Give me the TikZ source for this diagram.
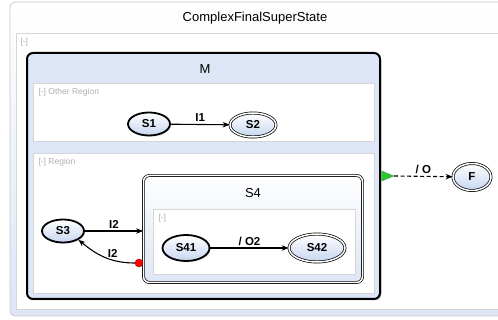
\documentclass[tikz,border=0pt]{standalone}
\usepackage{fontspec}
\setmainfont{Liberation Sans}
\usetikzlibrary{shapes.geometric,arrows.meta,shadows}

\definecolor{stateblue}{HTML}{C6D6F0}
\definecolor{panelblue}{HTML}{DCE6F6}
\definecolor{frameline}{HTML}{C8C8C8}
\definecolor{regionline}{HTML}{D6D6D6}
\definecolor{tagtext}{HTML}{B0B0B0}
\definecolor{entrygreen}{HTML}{2EC82E}

\tikzset{
  state/.style={ellipse, draw, line width=1.8pt, top color=white, bottom color=stateblue,
    inner sep=0pt, minimum width=42pt, minimum height=23pt,
    font=\fontsize{11.5}{13}\selectfont\bfseries,
    drop shadow={opacity=0.25, shadow xshift=1.2pt, shadow yshift=-1.2pt}},
  final/.style={state, line width=0.7pt, double=white, double distance=1.5pt},
  region/.style={draw=regionline, fill=white, line width=0.6pt},
  tag/.style={anchor=west, text=tagtext, font=\fontsize{8.5}{10}\selectfont},
  heading/.style={font=\fontsize{13}{15}\selectfont},
  trans/.style={line width=1.1pt, -{Stealth[length=7pt, width=5.5pt]}},
  guard/.style={above, inner sep=2pt, font=\fontsize{11.5}{13}\selectfont\bfseries}
}

\begin{document}
\begin{tikzpicture}[x=1pt, y=-1pt]
  \useasboundingbox (0,0) rectangle (498,320);
  \clip (0,0) rectangle (498,320);

  % outer super state
  \draw[frameline, rounded corners=5pt, top color=white, bottom color=panelblue, line width=0.7pt]
    (10,2) rectangle (530,316);
  \draw[region] (16,33) rectangle (530,309);
  \node[heading] (title) at (255,18) {ComplexFinalSuperState};
  \node[tag] (topTag) at (17,42) {[-]};

  % composite state M
  \node[draw, line width=2pt, rounded corners=6pt, fill=panelblue, minimum width=353pt,
    minimum height=246pt, drop shadow={opacity=0.3, shadow xshift=1.5pt, shadow yshift=-1.5pt}]
    (M) at (203.5,176) {};
  \node[heading] (Mname) at (205,69) {M};

  \draw[region] (33,83) rectangle (374,141);
  \node[tag] (otherTag) at (35,92) {[-] Other Region};
  \draw[region] (33,153) rectangle (374,293);
  \node[tag] (regionTag) at (35,162) {[-] Region};

  % composite state S4
  \node[draw, line width=0.7pt, double=white, double distance=1.5pt, rounded corners=6pt,
    top color=white, bottom color=panelblue, minimum width=219pt, minimum height=107pt]
    (S4) at (253,229) {};
  \node[heading] (S4name) at (253,193) {S4};
  \draw[region] (153,209) rectangle (355,274);
  \node[tag] (innerTag) at (155,218) {[-]};

  % states
  \node[state] (S1) at (149,124) {S1};
  \node[final, minimum width=46pt, minimum height=24pt] (S2) at (253,125) {S2};
  \node[state] (S3) at (63,231) {S3};
  \node[state, minimum width=47pt, minimum height=26pt] (S41) at (186,248) {S41};
  \node[final, minimum width=56pt, minimum height=28pt] (S42) at (317,248) {S42};
  \node[final, minimum width=38pt, minimum height=27pt] (F) at (472,177) {F};

  % pseudo states
  \node[circle, fill=red, draw=red!60!black, line width=0.4pt, inner sep=0pt,
    minimum size=8pt] (exit) at (139,263) {};
  \node[isosceles triangle, fill=entrygreen, draw=entrygreen!70!black, line width=0.3pt,
    inner sep=0pt, minimum height=9pt, minimum width=10pt] (entry) at (385,176) {};

  % transitions
  \draw[trans] (S1) -- node[guard] {I1} (S2);
  \draw[trans] (S41) -- node[guard] {/ O2} (S42);
  \draw[trans] (S3.east) -- node[guard] {I2} (S3.east -| S4.west);
  \draw[trans] (exit.west) to[out=180, in=-40] node[guard, pos=0.35] {I2} (S3.south east);
  \draw[trans, dash pattern=on 4pt off 2.5pt] (entry.east) -- node[guard] {/ O} (F);
\end{tikzpicture}
\end{document}
